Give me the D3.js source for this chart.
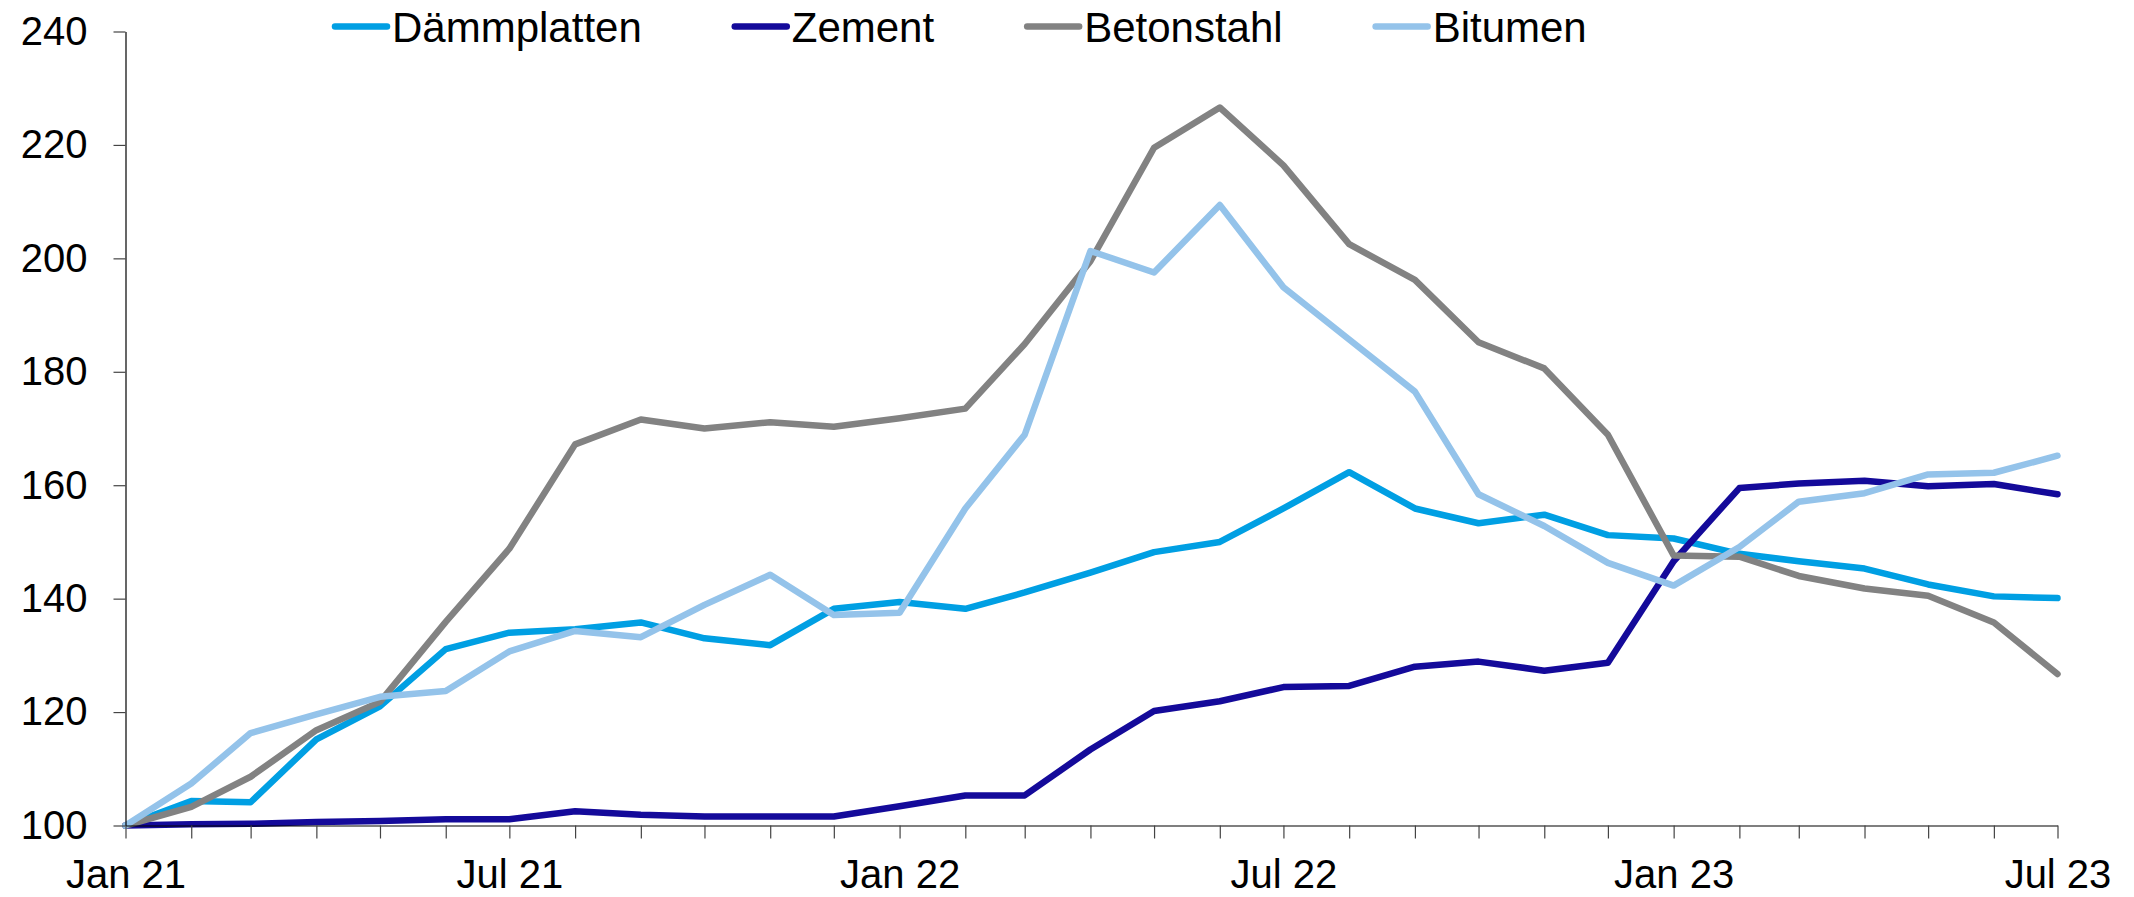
<!DOCTYPE html>
<html>
<head>
<meta charset="utf-8">
<script src="https://cdn.jsdelivr.net/npm/d3@7"></script>
<style>
    body { margin: 0; background: #fff; }
    svg { display: block; font-family: "Liberation Sans", Arial, sans-serif; }
</style>
</head>
<body>
<svg id="chart"></svg>
<script>
// Monthly index values (Jan 21 = 100)
const months = ["2021-01", "2021-02", "2021-03", "2021-04", "2021-05", "2021-06", "2021-07", "2021-08",
    "2021-09", "2021-10", "2021-11", "2021-12", "2022-01", "2022-02", "2022-03", "2022-04", "2022-05",
    "2022-06", "2022-07", "2022-08", "2022-09", "2022-10", "2022-11", "2022-12", "2023-01", "2023-02",
    "2023-03", "2023-04", "2023-05", "2023-06", "2023-07"]

const daemmplatten = [100, 104.3, 104.1, 115.2, 121.0, 131.1, 134.0, 134.6, 135.8, 133.0, 131.8, 138.2, 139.4,
    138.2, 141.1, 144.6, 148.2, 150.0, 155.9, 162.3, 155.9, 153.3, 154.8, 151.2, 150.6, 147.9, 146.6, 145.3,
    142.5, 140.4, 140.1]
const zement = [100, 100.2, 100.3, 100.6, 100.8, 101.1, 101.1, 102.5, 101.9, 101.6, 101.6, 101.6, 103.4,
    105.3, 105.3, 113.4, 120.2, 121.9, 124.4, 124.6, 128.0, 128.9, 127.3, 128.7, 146.6, 159.5, 160.3, 160.8,
    159.8, 160.2, 158.4]
const betonstahl = [100, 103.3, 108.6, 116.8, 121.8, 135.9, 148.8, 167.2, 171.6, 170.0, 171.1, 170.3, 171.8,
    173.5, 184.9, 199.5, 219.5, 226.6, 216.4, 202.5, 196.2, 185.2, 180.6, 168.9, 147.6, 147.4, 144.0, 141.8,
    140.5, 135.8, 126.7]
const bitumen = [100, 107.4, 116.3, 119.6, 122.7, 123.7, 130.7, 134.3, 133.2, 138.9, 144.2, 137.1, 137.5,
    155.9, 168.9, 201.3, 197.5, 209.4, 194.9, 185.7, 176.5, 158.4, 152.8, 146.3, 142.3, 149.1, 157.1, 158.6,
    161.9, 162.2, 165.2]

const seriesNames = ["Dämmplatten", "Zement", "Betonstahl", "Bitumen"]
const seriesValues = [daemmplatten, zement, betonstahl, bitumen]
const seriesColors = ["#009fe3", "#140a9a", "#828282", "#94c3ea"]
const yTicks = [100, 120, 140, 160, 180, 200, 220, 240]

const width = 2134
const height = 897
const lineWidth = 6.5

const svg = d3.select("#chart")
    .attr("width", width)
    .attr("height", height)

const parseMonth = d3.timeParse("%Y-%m")
const dates = months.map(parseMonth)

const x = d3.scaleTime()
    .domain(d3.extent(dates))
    .range([125.5, 2057.5])

const y = d3.scaleLinear()
    .domain([100, 240])
    .range([825.5, 31.5])

// Lines first, axes on top like the original
const line = d3.line()
    .x((d, i) => x(dates[i]))
    .y(d => y(d))

svg.append("g")
    .selectAll("path")
    .data(seriesValues)
    .join("path")
    .attr("d", line)
    .attr("fill", "none")
    .attr("stroke", (d, i) => seriesColors[i])
    .attr("stroke-width", lineWidth)
    .attr("stroke-linejoin", "round")
    .attr("stroke-linecap", "round")

// Y axis
const yAxis = svg.append("g")
    .attr("transform", `translate(${x.range()[0]},0)`)
    .call(d3.axisLeft(y).tickValues(yTicks).tickSize(12).tickSizeOuter(0).tickPadding(26))
yAxis.selectAll("text")
    .attr("font-size", 40)
    .attr("font-family", "'Liberation Sans', Arial, sans-serif")
    .attr("fill", "#000")

// X axis: tick every month, label every six months
const fmt = d3.timeFormat("%b %y")
const xAxis = svg.append("g")
    .attr("transform", `translate(0,${y(100)})`)
    .call(d3.axisBottom(x)
        .tickValues(dates)
        .tickSize(13)
        .tickSizeOuter(0)
        .tickPadding(21)
        .tickFormat(d => d.getMonth() % 6 === 0 ? fmt(d) : ""))
xAxis.selectAll("text")
    .attr("font-size", 40)
    .attr("font-family", "'Liberation Sans', Arial, sans-serif")
    .attr("fill", "#000")

svg.selectAll(".domain").attr("stroke", "#000").attr("stroke-width", 1.2)
svg.selectAll(".tick line").attr("stroke", "#444").attr("stroke-width", 1.2)

// Legend along the top
const legend = svg.append("g")
let legendX = 332
seriesNames.forEach((name, i) => {
    const item = legend.append("g").attr("transform", `translate(${legendX},0)`)
    item.append("line")
        .attr("x1", 3).attr("x2", 55)
        .attr("y1", 26.5).attr("y2", 26.5)
        .attr("stroke", seriesColors[i])
        .attr("stroke-width", lineWidth)
        .attr("stroke-linecap", "round")
    const label = item.append("text")
        .attr("x", 60)
        .attr("y", 41.5)
        .attr("font-size", 42)
        .attr("fill", "#000")
        .text(name)
    legendX += 60 + label.node().getComputedTextLength() + 90
})
</script>
</body>
</html>
